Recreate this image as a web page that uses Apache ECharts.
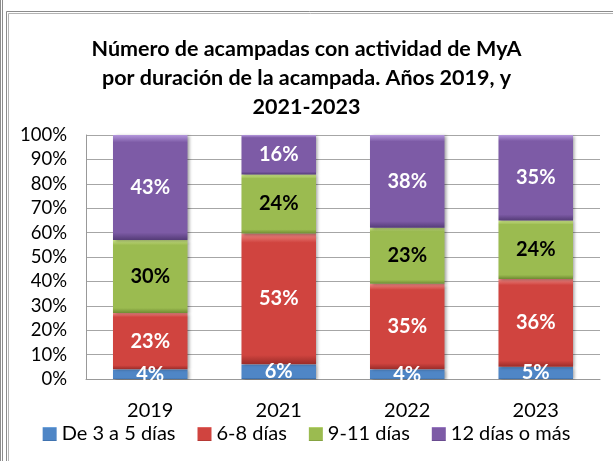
<!DOCTYPE html>
<html>
<head>
<meta charset="utf-8">
<script src="https://cdn.jsdelivr.net/npm/echarts@6/dist/echarts.min.js"></script>
<style>
  html, body { margin: 0; padding: 0; background: #fff; }
  #main { width: 613px; height: 461px; }
</style>
</head>
<body>
<div id="main"></div>
<script>
// datos (porcentajes)
var years = ['2019', '2021', '2022', '2023'];
var seriesNames = ['De 3 a 5 días', '6-8 días', '9-11 días', '12 días o más'];
var d3a5 = [4, 6, 4, 5];
var d6a8 = [23, 53, 35, 36];
var d9a11 = [30, 24, 23, 24];
var d12mas = [43, 16, 38, 35];
var yTicks = [0, 10, 20, 30, 40, 50, 60, 70, 80, 90, 100];

var allData = [d3a5, d6a8, d9a11, d12mas];
// colores: [claro, base, oscuro]
var colors = [
  ['#8ec0f0', '#4f86c6', '#2f5f98'],
  ['#f08a86', '#d0443f', '#9a2c29'],
  ['#cfe88c', '#9bbb50', '#6f8a32'],
  ['#b497dc', '#7d5ba6', '#553c78']
];
var labelColors = ['#fff', '#fff', '#000', '#fff'];

// barras al 100% como en Excel
var totals = years.map(function (y, i) {
  return allData.reduce(function (s, arr) { return s + arr[i]; }, 0);
});

var font = 'Lato, "Liberation Sans", sans-serif';

var series = allData.map(function (arr, k) {
  return {
    name: seriesNames[k],
    type: 'bar',
    stack: 'total',
    barWidth: '58%',
    data: arr.map(function (v, i) {
      return { value: v / totals[i] * 100, raw: v };
    }),
    itemStyle: {
      color: new echarts.graphic.LinearGradient(0, 0, 0, 1, [
        { offset: 0, color: colors[k][0] },
        { offset: 0.07, color: colors[k][1] },
        { offset: 0.93, color: colors[k][1] },
        { offset: 1, color: colors[k][2] }
      ]),
      shadowBlur: 3,
      shadowOffsetX: 2,
      shadowOffsetY: 1,
      shadowColor: 'rgba(0,0,0,0.35)'
    },
    label: {
      show: true,
      position: 'inside',
      color: labelColors[k],
      fontFamily: font,
      fontWeight: 'bold',
      fontSize: 20,
      formatter: function (p) { return p.data.raw + '%'; }
    }
  };
});

var myChart = echarts.init(document.getElementById('main'));
myChart.setOption({
  animation: false,
  backgroundColor: '#fff',
  title: {
    text: 'Número de acampadas con actividad de MyA\npor duración de la acampada. Años 2019, y\n2021-2023',
    left: 'center',
    top: 30,
    textStyle: {
      fontFamily: font,
      fontWeight: 'bold',
      fontSize: 21.5,
      lineHeight: 29,
      color: '#000'
    }
  },
  legend: {
    bottom: 12,
    left: 'center',
    itemWidth: 14,
    itemHeight: 14,
    itemGap: 22,
    icon: 'rect',
    textStyle: { fontFamily: font, fontSize: 20, color: '#000' },
    data: seriesNames
  },
  grid: { left: 86, right: 13, top: 135, bottom: 82 },
  xAxis: {
    type: 'category',
    data: years,
    axisLine: { show: true, lineStyle: { color: '#999' } },
    axisTick: { show: false },
    axisLabel: { fontFamily: font, fontSize: 20, color: '#000', margin: 22 }
  },
  yAxis: {
    type: 'value',
    min: 0,
    max: 100,
    interval: 10,
    axisLine: { show: true, lineStyle: { color: '#999' } },
    axisTick: { show: false },
    splitLine: { lineStyle: { color: '#a6a6a6', width: 1 } },
    axisLabel: {
      fontFamily: font,
      fontSize: 18.5,
      color: '#000',
      margin: 19,
      formatter: function (v) { return yTicks.indexOf(v) >= 0 ? v + '%' : ''; }
    }
  },
  series: series,
  graphic: [
    // recorte de las etiquetas bajo el área del gráfico
    { type: 'rect', z: 100, shape: { x: 87, y: 380, width: 513, height: 12 }, style: { fill: '#fff' } },
    // marcos
    { type: 'line', z: 100, shape: { x1: 0.5, y1: 0, x2: 0.5, y2: 461 }, style: { stroke: '#8c8c8c', lineWidth: 1 } },
    { type: 'line', z: 100, shape: { x1: 2.5, y1: 0, x2: 2.5, y2: 461 }, style: { stroke: '#8c8c8c', lineWidth: 1 } },
    { type: 'line', z: 100, shape: { x1: 6.5, y1: 11.5, x2: 6.5, y2: 461 }, style: { stroke: '#8c8c8c', lineWidth: 1 } },
    { type: 'line', z: 100, shape: { x1: 8.5, y1: 13.5, x2: 8.5, y2: 461 }, style: { stroke: '#b4b4b4', lineWidth: 1 } },
    { type: 'line', z: 100, shape: { x1: 6.5, y1: 11.5, x2: 613, y2: 11.5 }, style: { stroke: '#8c8c8c', lineWidth: 1 } },
    { type: 'line', z: 100, shape: { x1: 8.5, y1: 13.5, x2: 613, y2: 13.5 }, style: { stroke: '#b4b4b4', lineWidth: 1 } }
  ]
});
</script>
</body>
</html>
